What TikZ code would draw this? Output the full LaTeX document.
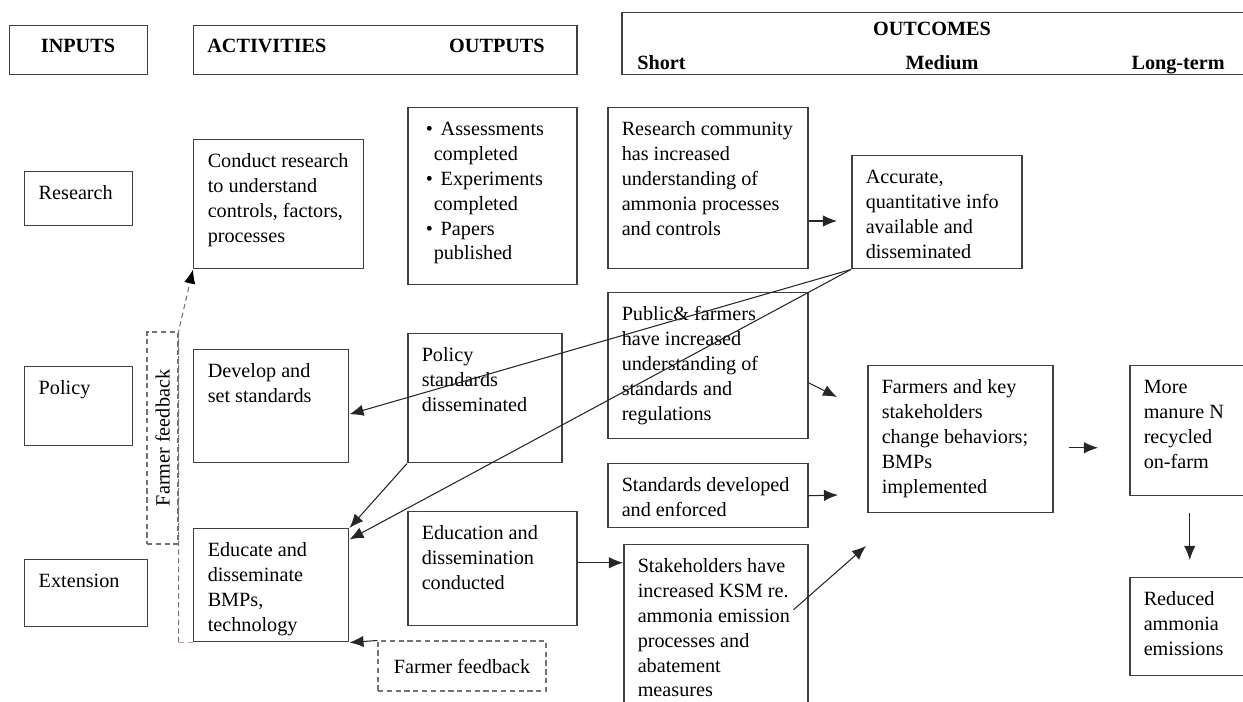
\documentclass[tikz,border=0pt]{standalone}
\usepackage{fontspec}
\usepackage{graphicx}
\setmainfont{Liberation Serif}
\usetikzlibrary{positioning,arrows.meta,calc}

\newlength{\px}
\setlength{\px}{0.02cm}
% text of a box: width, height (in px) and its lines
\newcommand{\bx}[3]{\parbox[t][\dimexpr#2\px-20\px\relax][t]{\dimexpr#1\px-28\px\relax}{\begin{tabular}[t]{@{}l@{}}#3\end{tabular}}}
\newcommand{\bul}[1]{\hspace{4\px}\makebox[15\px][l]{\textbullet}#1}
\newcommand{\cont}[1]{\hspace{12\px}#1}

\begin{document}
\begin{tikzpicture}[x=0.02cm, y=-0.02cm,
  every node/.style={font=\fontsize{11.5}{14.2}\selectfont},
  box/.style={draw=black!75, line width=0.85pt, anchor=north west, inner xsep=14*\px, inner ysep=10*\px},
  hdr/.style={draw=black!75, line width=0.85pt, anchor=north west, inner sep=0pt},
  htxt/.style={inner sep=0pt, font=\fontsize{11.5}{14.2}\selectfont\bfseries},
  fbbox/.style={draw=black!55, line width=0.6pt, dash pattern=on 3pt off 2pt, inner sep=2pt},
  arr/.style={black!85, line width=0.6pt, -{Latex[length=8pt,width=6.5pt]}},
  fbline/.style={black!55, line width=0.6pt, dash pattern=on 3pt off 2pt},
  fbarr/.style={fbline, -{Latex[length=8pt,width=6.5pt,black]}}]

  \useasboundingbox (0,0) rectangle (1243,702);
  \clip (0,0) rectangle (1243,702);

  % headers
  \node[hdr, minimum width=138*\px, minimum height=49*\px] (hIn) at (9,25) {};
  \node[hdr, minimum width=383*\px, minimum height=49*\px] (hAct) at (193,25) {};
  \node[hdr, minimum width=630*\px, minimum height=62*\px] (hOut) at (621,12) {};
  \node[htxt, anchor=base] (tIn) at (78,53) {INPUTS};
  \node[htxt, anchor=base west] (tAct) at (207,53) {ACTIVITIES};
  \node[htxt, anchor=base east] (tOutp) at (545,53) {OUTPUTS};
  \node[htxt, anchor=base] (tOutc) at (932,36) {OUTCOMES};
  \node[htxt, anchor=base west] (tShort) at (637,70) {Short};
  \node[htxt, anchor=base] (tMed) at (942,70) {Medium};
  \node[htxt, anchor=base east] (tLong) at (1225,70) {Long-term};

  % inputs
  \node[box] (iRes) at (24,171) {\bx{108}{54}{Research}};
  \node[box] (iPol) at (24,366) {\bx{108}{79}{Policy}};
  \node[box] (iExt) at (24,559) {\bx{123}{67}{Extension}};

  % activities
  \node[box] (aRes) at (193,139) {\bx{170}{129}{Conduct research\\to understand\\controls, factors,\\processes}};
  \node[box] (aPol) at (193,349) {\bx{155}{113}{Develop and\\set standards}};
  \node[box] (aExt) at (193,528) {\bx{155}{113}{Educate and\\disseminate\\BMPs,\\technology}};

  % outputs
  \node[box] (oRes) at (407,107) {\bx{169}{177}{\bul{Assessments}\\\cont{completed}\\\bul{Experiments}\\\cont{completed}\\\bul{Papers}\\\cont{published}}};
  \node[box] (oPol) at (407,333) {\bx{154}{129}{Policy\\standards\\disseminated}};
  \node[box] (oExt) at (407,511) {\bx{169}{114}{Education and\\dissemination\\conducted}};

  % short-term outcomes
  \node[box] (sRes) at (607,107) {\bx{200}{161}{Research community\\has increased\\understanding of\\ammonia processes\\and controls}};
  \node[box] (sPub) at (607,292) {\bx{200}{146}{Public\& farmers\\have increased\\understanding of\\standards and\\regulations}};
  \node[box] (sStd) at (607,463) {\bx{200}{64}{Standards developed\\and enforced}};
  \node[box] (sSta) at (623,544) {\bx{184}{176}{Stakeholders have\\increased KSM re.\\ammonia emission\\processes and\\abatement\\measures}};

  % medium and long-term outcomes
  \node[box] (mAcc) at (851,155) {\bx{170}{113}{Accurate,\\quantitative info\\available and\\disseminated}};
  \node[box] (mFar) at (867,365) {\bx{185}{147}{Farmers and key\\stakeholders\\change behaviors;\\BMPs\\implemented}};
  \node[box] (lMan) at (1129,365) {\bx{120}{130}{More\\manure N\\recycled\\on-farm}};
  \node[box] (lRed) at (1129,577) {\bx{120}{98}{Reduced\\ammonia\\emissions}};

  % feedback
  \node[fbbox, minimum width=31*\px, minimum height=212*\px] (fb1) at (162.5,438) {\rotatebox{90}{Farmer feedback}};
  \node[fbbox, minimum width=168*\px, minimum height=50*\px] (fb2) at (462,666) {Farmer feedback};

  \coordinate (c1) at (837,221);
  \coordinate (c2) at (837,397);
  \coordinate (c3) at (838,495);
  \coordinate (c4) at (866,546);

  \path[arr] (sRes.east |- c1) edge (c1);
  \path[arr] (mAcc.south west) edge ($(aPol.north east)!0.57!(aPol.south east)$);
  \path[arr] (mAcc.south west) edge ($(aExt.north east)!0.1!(aExt.south east)$);
  \path[arr] (oPol.south west) edge (aExt.north east);
  \path[arr] ($(oExt.east)+(0,-6)$) edge ($(oExt.east -| sSta.west)+(0,-6)$);
  \path[arr] ($(sPub.east)+(0,17)$) edge (c2);
  \path[arr] (sStd.east) edge (c3);
  \path[arr] ($(sSta.east)+(-15,-23)$) edge (c4);
  \path[arr, shorten <=15*\px, shorten >=31*\px] ($(mFar.east)+(0,8.5)$) edge ($(mFar.east -| lMan.west)+(0,8.5)$);
  \path[arr, shorten <=17*\px, shorten >=17*\px] (lMan.south) edge (lRed.north);
  \path[arr] (fb2.north west) edge (aExt.south east);
  \draw[fbline, magenta!50] (aExt.south west) -- (fb1.east |- aExt.south west);
  \draw[fbarr] (fb1.east |- aExt.south west) -- (fb1.north east) -- (aRes.south west);

\end{tikzpicture}
\end{document}
